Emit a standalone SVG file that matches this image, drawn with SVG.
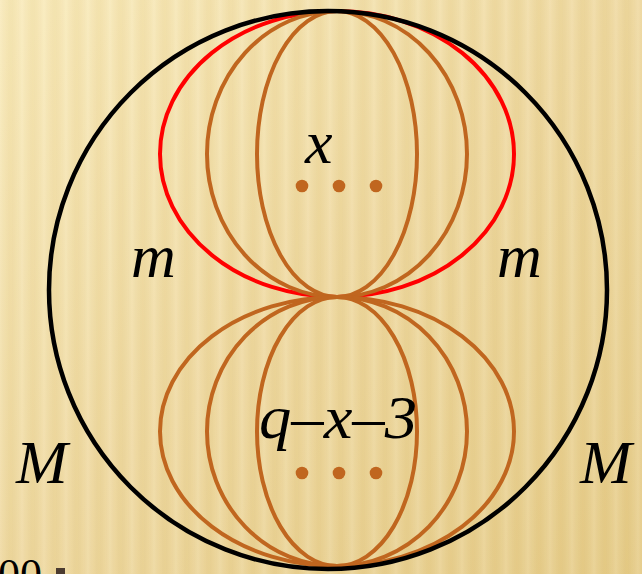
<svg xmlns="http://www.w3.org/2000/svg" width="642" height="574" viewBox="0 0 642 574">
  <defs>
    <linearGradient id="bg" x1="0" y1="0" x2="1" y2="1">
      <stop offset="0" stop-color="#f9ebbb"/>
      <stop offset="0.5" stop-color="#efd9a0"/>
      <stop offset="1" stop-color="#e6cc88"/>
    </linearGradient>
    <linearGradient id="stripe" x1="0" y1="0" x2="1" y2="0">
      <stop offset="0" stop-color="#ffffff" stop-opacity="0.12"/>
      <stop offset="0.5" stop-color="#b08a30" stop-opacity="0.07"/>
      <stop offset="1" stop-color="#ffffff" stop-opacity="0.12"/>
    </linearGradient>
    <pattern id="stripes" width="22" height="574" patternUnits="userSpaceOnUse">
      <rect width="22" height="574" fill="url(#stripe)"/>
    </pattern>
  </defs>
  <style>
    .blk { fill: none; stroke: #000000; stroke-width: 4.5; }
    .red { fill: none; stroke: #ff0000; stroke-width: 4; }
    .org { fill: none; stroke: #c0661f; stroke-width: 4; }
    .dot { fill: #c0661f; }
    .lbl { font-family: "Liberation Serif", "Times New Roman", serif; font-style: italic; font-size: 62px; fill: #000000; }
  </style>
  <rect width="642" height="574" fill="url(#bg)"/>
  <rect width="642" height="574" fill="url(#stripes)"/>

  <g id="top-family">
    <ellipse class="red" cx="337" cy="154" rx="177" ry="143"/>
    <ellipse class="org" cx="337" cy="154" rx="130" ry="143"/>
    <ellipse class="org" cx="337" cy="154" rx="80" ry="143"/>
    <circle class="dot" cx="302" cy="186" r="6.3"/>
    <circle class="dot" cx="339" cy="186" r="6.3"/>
    <circle class="dot" cx="376" cy="186" r="6.3"/>
    <text class="lbl" x="305" y="163">x</text>
  </g>

  <g id="bottom-family">
    <ellipse class="org" cx="337" cy="431.5" rx="177" ry="134.5"/>
    <ellipse class="org" cx="337" cy="431.5" rx="130" ry="134.5"/>
    <ellipse class="org" cx="337" cy="431.5" rx="80" ry="134.5"/>
    <circle class="dot" cx="302" cy="473" r="6.3"/>
    <circle class="dot" cx="339" cy="473" r="6.3"/>
    <circle class="dot" cx="376" cy="473" r="6.3"/>
    <text class="lbl" x="259" y="438" font-size="60" textLength="158" lengthAdjust="spacingAndGlyphs">q–x–3</text>
  </g>

  <g id="outer-circle">
    <circle class="blk" cx="328" cy="290" r="279"/>
  </g>

  <g id="labels">
    <text class="lbl" x="131" y="277">m</text>
    <text class="lbl" x="497" y="277">m</text>
    <text class="lbl" x="16" y="483">M</text>
    <text class="lbl" x="580" y="483">M</text>
  </g>

  <g id="corner">
    <text x="-2" y="589" font-family="Liberation Serif, serif" font-size="44" fill="#000000">00</text>
    <rect x="56" y="568" width="9" height="6" fill="#4b3b30"/>
  </g>
</svg>
